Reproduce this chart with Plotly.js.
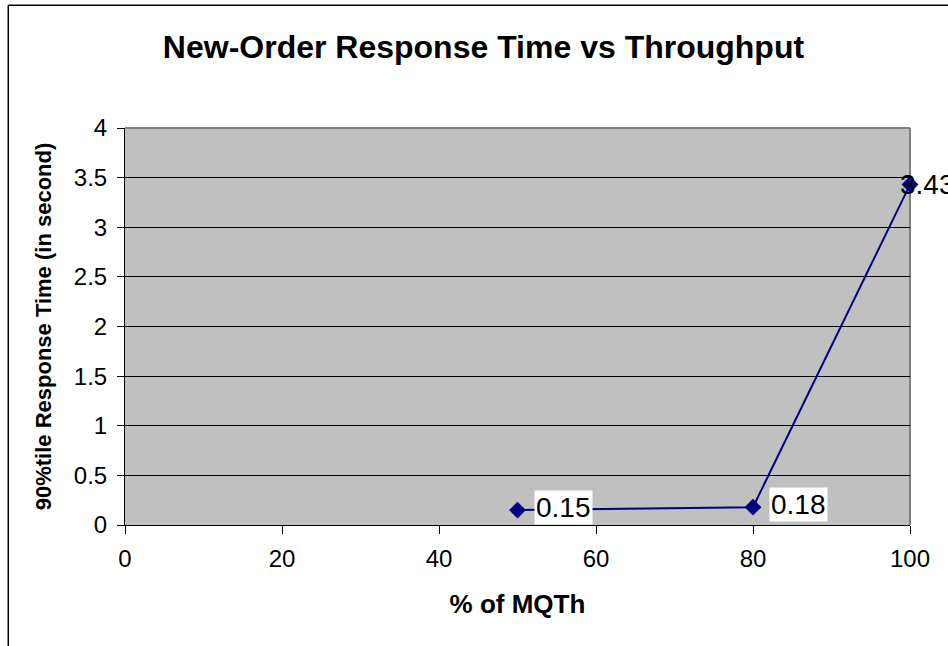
<!DOCTYPE html>
<html>
<head>
<meta charset="utf-8">
<script src="https://cdn.plot.ly/plotly-3.0.1.min.js"></script>
<style>
html,body{margin:0;padding:0;background:#fff;}
#chart{width:948px;height:646px;}
</style>
</head>
<body>
<div id="chart"></div>
<script>
const pctMQTh = [50, 80, 100];
const responseTime = [0.15, 0.18, 3.43];
const pointLabels = ["0.15", "0.18", "3.43"];
const xTicks = [0, 20, 40, 60, 80, 100];
const yTicks = [0, 0.5, 1, 1.5, 2, 2.5, 3, 3.5, 4];
const yTickText = ["0", "0.5", "1", "1.5", "2", "2.5", "3", "3.5", "4"];

const FONT = "Liberation Sans, Arial, sans-serif";

const trace = {
  x: pctMQTh,
  y: responseTime,
  type: "scatter",
  mode: "lines+markers",
  line: {color: "#000080", width: 2},
  marker: {symbol: "diamond", size: 13, color: "#000080"},
  cliponaxis: false,
  hoverinfo: "x+y"
};

const annotations = pctMQTh.map((xv, i) => {
  const last = i === pctMQTh.length - 1;
  return {
    x: xv, y: responseTime[i], xref: "x", yref: "y",
    text: pointLabels[i], showarrow: false,
    xanchor: "left", yanchor: "middle",
    xshift: last ? -12 : 16, yshift: last ? 0 : 3,
    bgcolor: last ? "rgba(0,0,0,0)" : "#ffffff",
    borderpad: 1,
    font: {family: FONT, size: 28, color: "#000"}
  };
});

const layout = {
  width: 948, height: 646,
  margin: {l: 125, r: 38, t: 128, b: 121, pad: 0},
  paper_bgcolor: "#ffffff",
  plot_bgcolor: "#c0c0c0",
  showlegend: false,
  title: {
    text: "<b>New-Order Response Time vs Throughput</b>",
    font: {family: FONT, size: 32, color: "#000"},
    x: 0.51, xanchor: "center", y: 0.927, yanchor: "middle"
  },
  xaxis: {
    range: [0, 100],
    tickvals: xTicks, ticktext: xTicks.map(String),
    showgrid: false, zeroline: false,
    showline: true, linecolor: "#000", linewidth: 1,
    ticks: "outside", ticklen: 8, tickcolor: "#000",
    ticklabelstandoff: 4,
    tickfont: {family: FONT, size: 24, color: "#000"},
    title: {text: "<b>% of MQTh</b>", font: {family: FONT, size: 26, color: "#000"}, standoff: 24},
    fixedrange: true
  },
  yaxis: {
    range: [0, 4],
    tickvals: yTicks, ticktext: yTickText,
    showgrid: true, gridcolor: "#000", gridwidth: 1,
    zeroline: false,
    showline: true, linecolor: "#000", linewidth: 1,
    ticks: "outside", ticklen: 7, tickcolor: "#000",
    ticklabelstandoff: 5,
    tickfont: {family: FONT, size: 24, color: "#000"},
    title: {text: "<b>90%tile Response Time (in second)</b>", font: {family: FONT, size: 22, color: "#000"}, standoff: 16},
    fixedrange: true
  },
  shapes: [
    {type: "line", xref: "paper", yref: "paper", x0: 0, x1: 1, y0: 1, y1: 1, line: {color: "#808080", width: 2}, layer: "above"},
    {type: "line", xref: "paper", yref: "paper", x0: 1, x1: 1, y0: 0, y1: 1, line: {color: "#808080", width: 2}, layer: "below"},
    {type: "line", xref: "paper", yref: "paper", x0: -0.1487, x1: -0.1487, y0: -0.35, y1: 1.309, line: {color: "#000", width: 1.5}, layer: "above"},
    {type: "line", xref: "paper", yref: "paper", x0: -0.1487, x1: 1.05, y0: 1.309, y1: 1.309, line: {color: "#000", width: 1.5}, layer: "above"}
  ],
  annotations: annotations
};

Plotly.newPlot("chart", [trace], layout, {displayModeBar: false, staticPlot: true});
</script>
</body>
</html>
